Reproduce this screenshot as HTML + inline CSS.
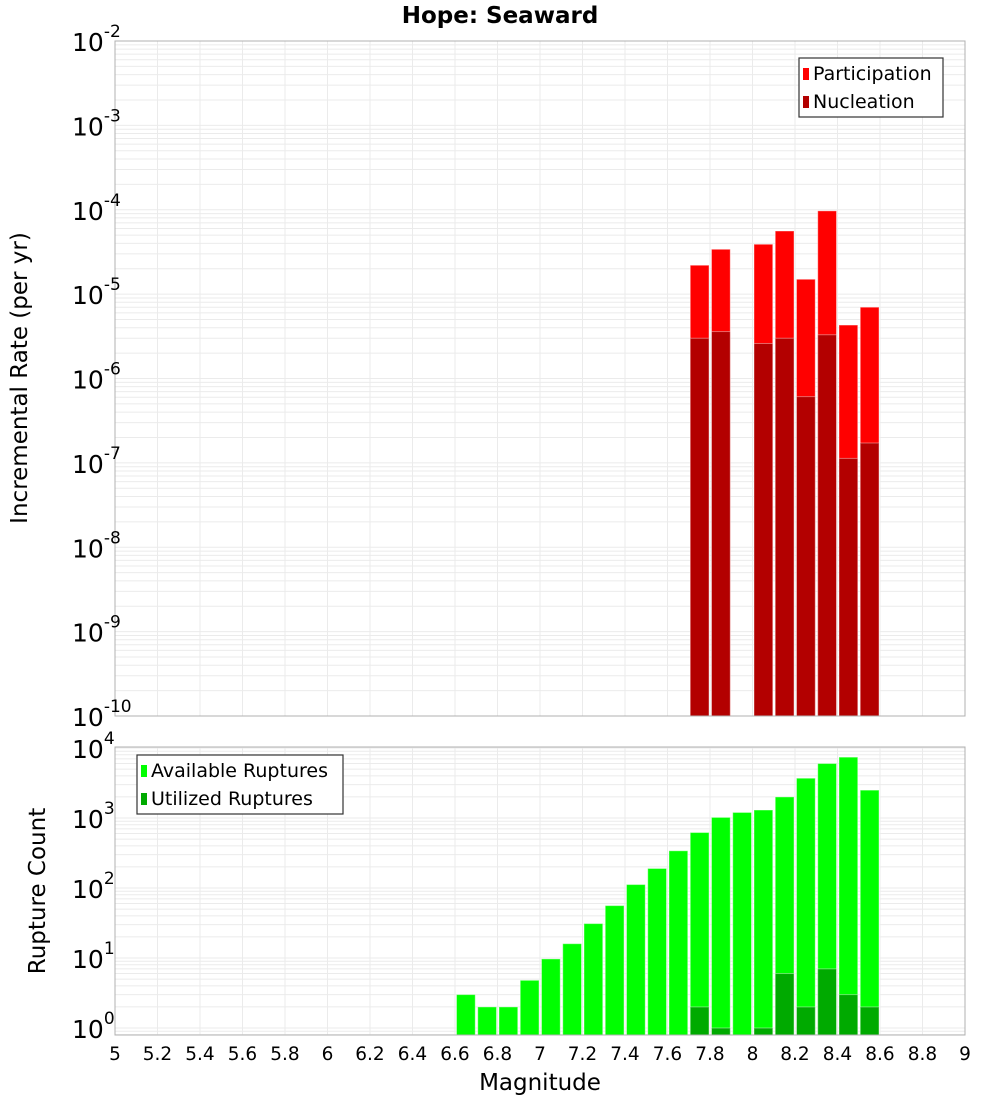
<!DOCTYPE html>
<html><head><meta charset="utf-8"><style>
body{margin:0;background:#fff;}
svg{display:block;font-family:"DejaVu Sans","Liberation Sans",sans-serif;}
</style></head><body>
<svg id="c" width="1000" height="1100" viewBox="0 0 1000 1100" xmlns="http://www.w3.org/2000/svg">
<text x="500" y="23" text-anchor="middle" font-size="23" font-weight="bold">Hope: Seaward</text>
<text x="540" y="1090" text-anchor="middle" font-size="23">Magnitude</text>
<text transform="translate(27,378) rotate(-90)" text-anchor="middle" font-size="23">Incremental Rate (per yr)</text>
<text transform="translate(45,891) rotate(-90)" text-anchor="middle" font-size="23">Rupture Count</text>
</svg>
<script>
const mags = [6.6,6.7,6.8,6.9,7.0,7.1,7.2,7.3,7.4,7.5,7.6,7.7,7.8,7.9,8.0,8.1,8.2,8.3,8.4,8.5];
const participation = [0,0,0,0,0,0,0,0,0,0,0,2.2e-5,3.4e-5,0,3.9e-5,5.6e-5,1.5e-5,9.7e-5,4.3e-6,7.0e-6];
const nucleation = [0,0,0,0,0,0,0,0,0,0,0,3.0e-6,3.6e-6,0,2.6e-6,3.0e-6,6.1e-7,3.3e-6,1.13e-7,1.72e-7];
const available = [3,2,2,4.8,9.7,16,31,56,112,190,340,620,1020,1200,1300,2000,3700,6000,7400,2500];
const utilized = [0,0,0,0,0,0,0,0,0,0,0,2,1,0,1,6,2,7,3,2];
const xTicks = ["5","5.2","5.4","5.6","5.8","6","6.2","6.4","6.6","6.8","7","7.2","7.4","7.6","7.8","8","8.2","8.4","8.6","8.8","9"];
const topDecades = [-2,-3,-4,-5,-6,-7,-8,-9,-10];
const botDecades = [4,3,2,1,0];

const svg = document.getElementById('c');
const NS = 'http://www.w3.org/2000/svg';
function mk(tag, a, parent){const e=document.createElementNS(NS,tag);for(const k in a)e.setAttribute(k,a[k]);(parent||svg).appendChild(e);return e;}
const X0=115,X1=965;
const xs = m => X0 + (m-5)/4*(X1-X0);
const T0=41,T1=716;
const yTop = v => T0 + (-2 - Math.log10(v))/8*(T1-T0);
const B0=747,B1=1035;
const yBot = v => 1028 - Math.log10(v)*70;

function panel(top,bot,yf,minLog,maxLog,name){
  const g=mk('g',{});
  
  
  for(let d=minLog;d<=maxLog;d++){for(let k=1;k<10;k++){const y=yf(k*Math.pow(10,d));if(y>=top&&y<=bot)mk('line',{x1:X0,x2:X1,y1:y,y2:y,stroke:'#ebebeb','stroke-width':1},g);}}
  for(let i=0;i<xTicks.length;i++){const x=xs(parseFloat(xTicks[i]));mk('line',{x1:x,x2:x,y1:top,y2:bot,stroke:'#ebebeb','stroke-width':1},g);}
}
panel(T0,T1,yTop,-10,-2,'top');
panel(B0,B1,yBot,-1,4,'bottom');

function bar(m,v,yf,base,color,name){
  if(!(v>0))return;
  const x=xs(m)+1.5, w=xs(m+0.1)-xs(m)-2.5, y=Math.max(yf(v),0);
  const r=mk('rect',{x:x,y:y,width:w,height:base-y,fill:color,stroke:'rgba(255,255,255,0.4)','stroke-width':1});
  
  
}
mags.forEach((m,i)=>{bar(m,participation[i],yTop,T1,'#ff0000','participation-bar-'+m);});
mags.forEach((m,i)=>{bar(m,nucleation[i],yTop,T1,'#b30000','nucleation-bar-'+m);});
mags.forEach((m,i)=>{bar(m,available[i],yBot,B1,'#00ff00','available-bar-'+m);});
mags.forEach((m,i)=>{bar(m,utilized[i],yBot,B1,'#00aa00','utilized-bar-'+m);});

const f1=mk('rect',{x:X0,y:T0,width:X1-X0,height:T1-T0,fill:'none',stroke:'#b0b0b0'});


const f2=mk('rect',{x:X0,y:B0,width:X1-X0,height:B1-B0,fill:'none',stroke:'#b0b0b0'});



function ylab(d,y,name){
  const t=mk('text',{x:72,y:y+10,'text-anchor':'start','font-size':25});
  
  
  t.textContent='10';
  const sup=mk('tspan',{dy:-14,'font-size':17},t);sup.textContent=String(d);
}
topDecades.forEach(d=>ylab(d,yTop(Math.pow(10,d)),'top-y-tick-'+d));
botDecades.forEach(d=>ylab(d,yBot(Math.pow(10,d)),'bottom-y-tick-'+d));
xTicks.forEach(s=>{const t=mk('text',{x:xs(parseFloat(s)),y:1060,'text-anchor':'middle','font-size':18.5});
  
  
  t.textContent=s;});

function legend(x,y,w,items,name){
  const g=mk('g',{});
  
  
  mk('rect',{x:x,y:y,width:w,height:59,fill:'#fff',stroke:'#333','stroke-width':1.2},g);
  items.forEach((it,i)=>{
    mk('rect',{x:x+4,y:y+10+i*28,width:6,height:12,fill:it[1]},g);
    const t=mk('text',{x:x+14,y:y+22+i*28,'font-size':19},g);t.textContent=it[0];
  });
}
legend(799,58,144,[['Participation','#ff0000'],['Nucleation','#b30000']],'top-legend');
legend(137,755,206,[['Available Ruptures','#00ff00'],['Utilized Ruptures','#00aa00']],'bottom-legend');
</script>
</body></html>
